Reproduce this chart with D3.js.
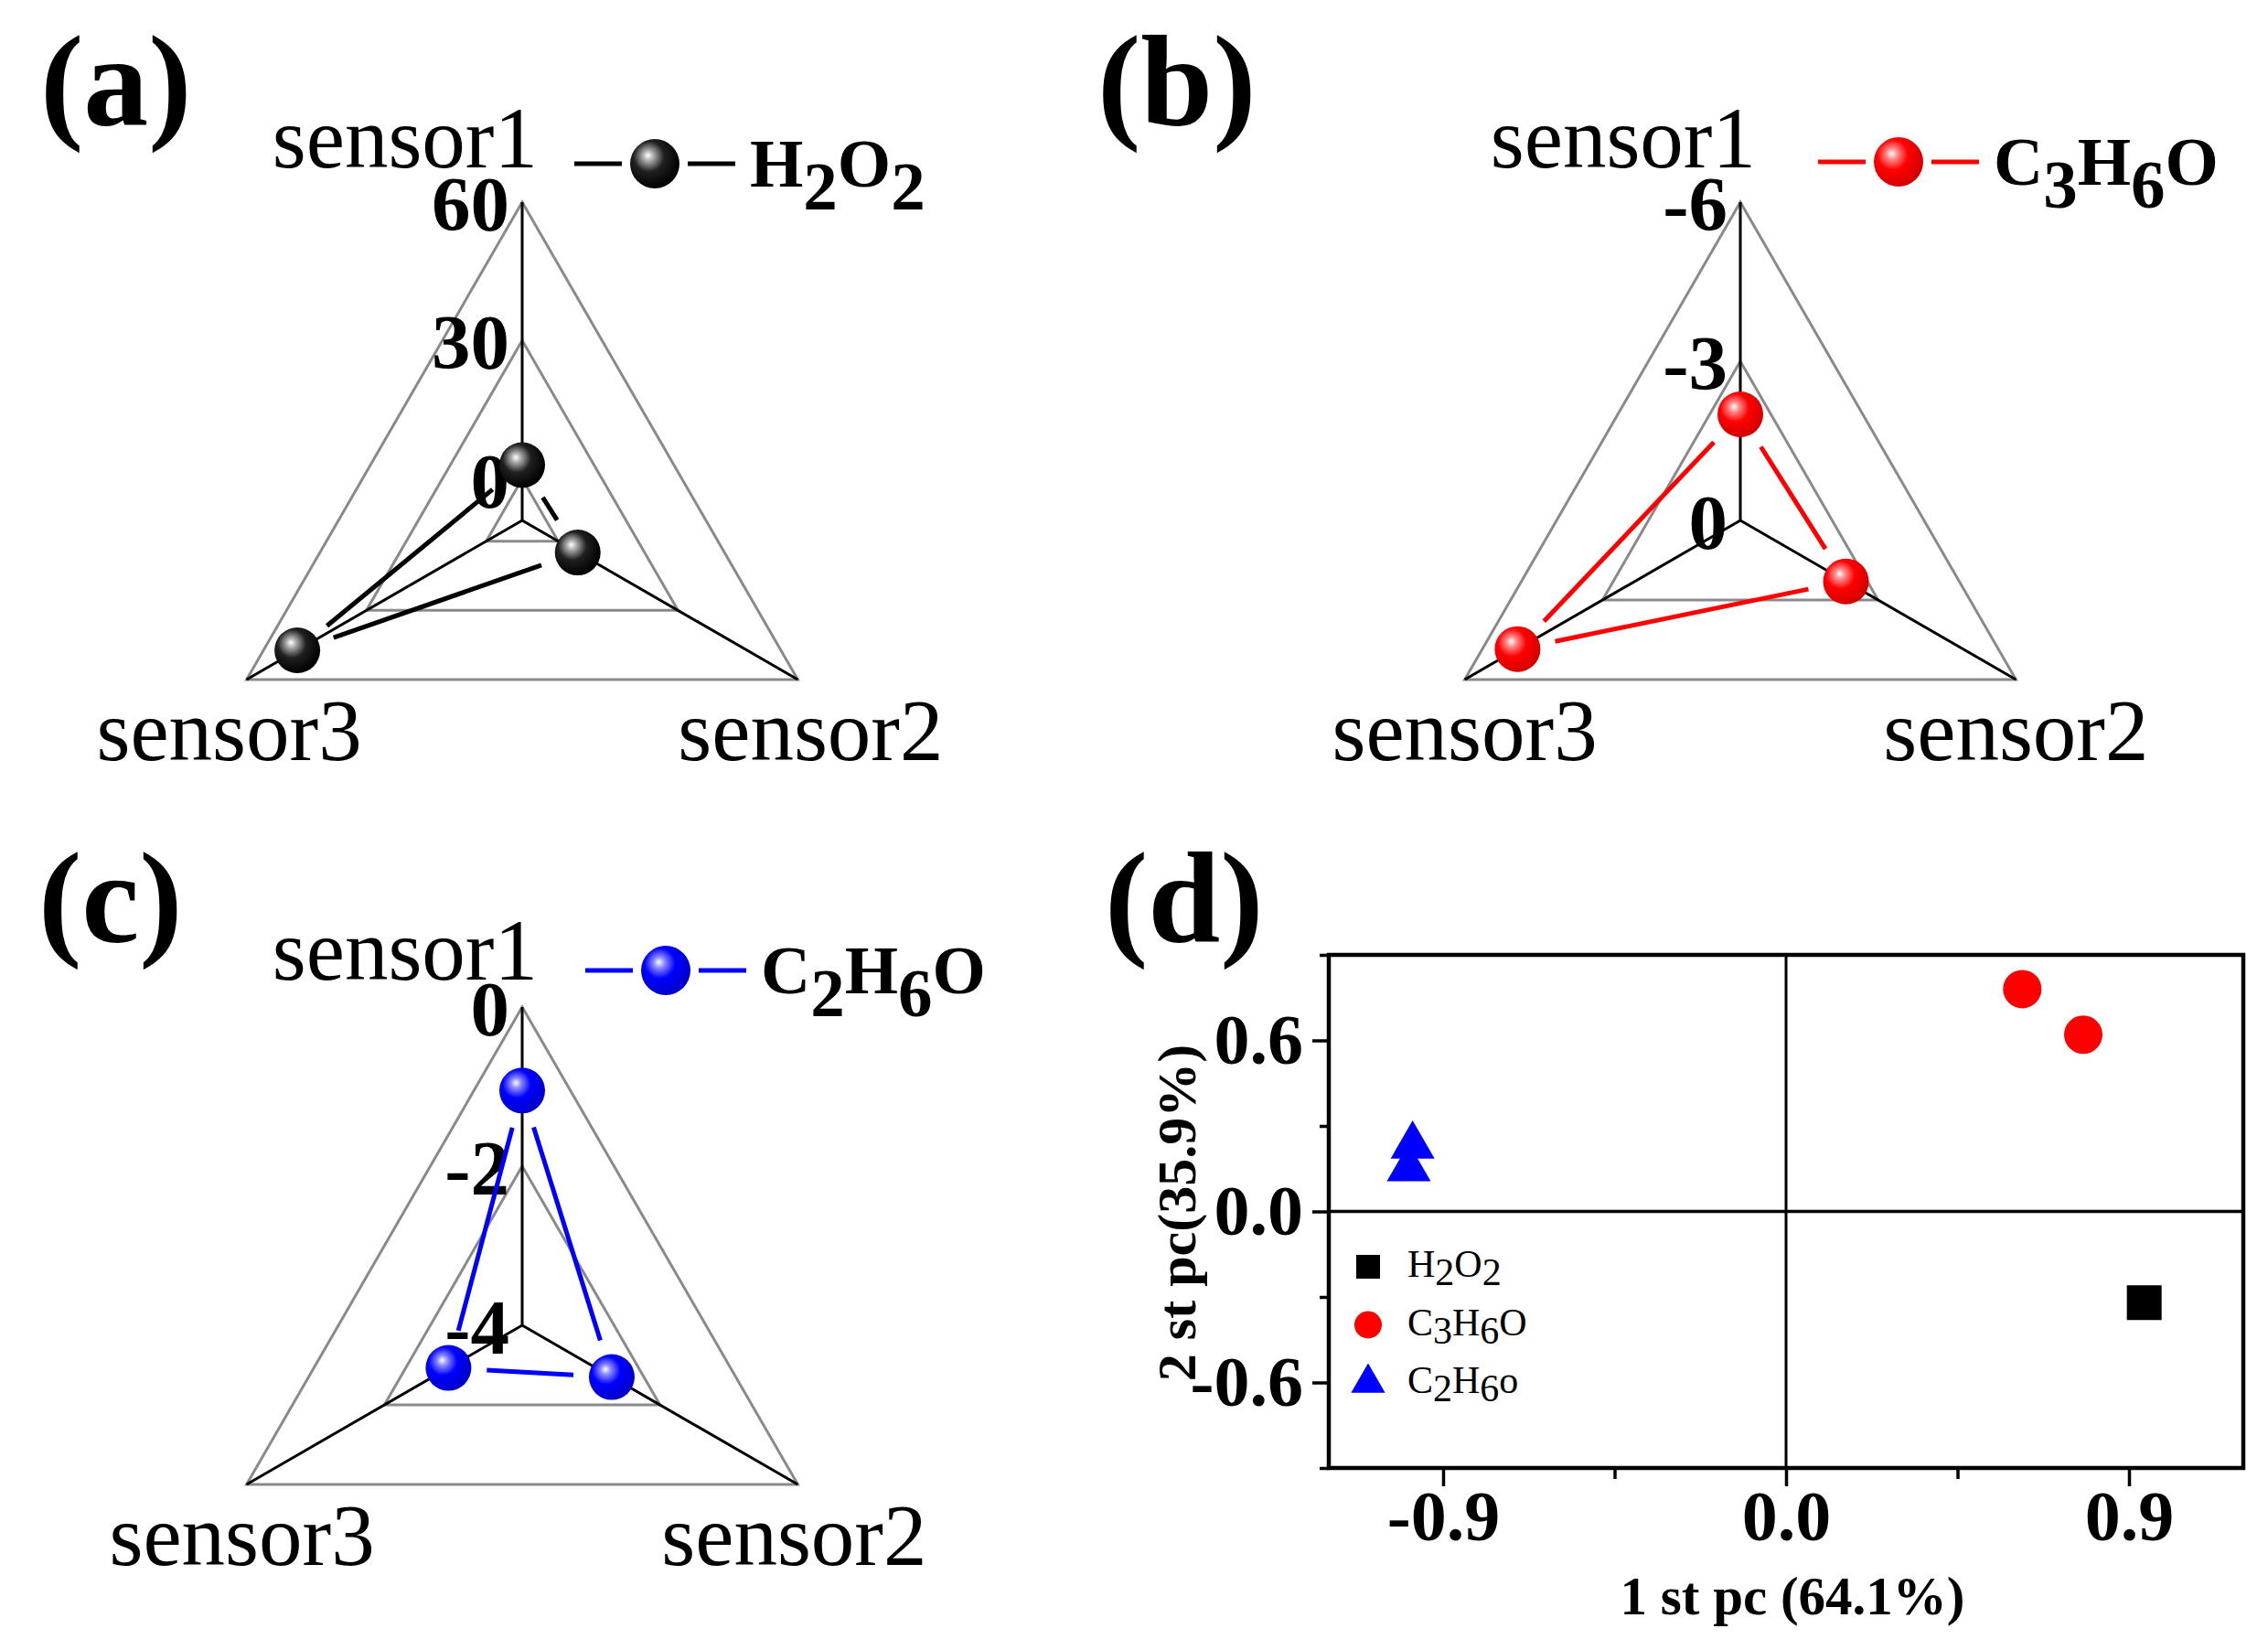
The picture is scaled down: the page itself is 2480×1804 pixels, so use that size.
<!DOCTYPE html>
<html>
<head>
<meta charset="utf-8">
<script src="https://cdn.jsdelivr.net/npm/d3@7"></script>
<style>
  html, body { margin: 0; padding: 0; background: #ffffff; }
  svg { display: block; }
  text { font-family: "Liberation Serif", "Times New Roman", serif; }
</style>
</head>
<body>
<svg id="chart" width="2480" height="1804"></svg>
<script>
// ---------------- DATA ----------------
const sensors = ["sensor1", "sensor2", "sensor3"];

// radar (a) H2O2
const h2o2Values = [3.0, 4.9, 47.3];
const h2o2Ticks = [0, 30, 60];
const h2o2Domain = [-9, 60];

// radar (b) C3H6O
const c3h6oValues = [-2.0, -2.3, -4.85];
const c3h6oTicks = [0, -3, -6];
const c3h6oDomain = [0, -6];

// radar (c) C2H6O
const c2h6oValues = [-1.05, -2.7, -2.93];
const c2h6oTicks = [-4, -2, 0];
const c2h6oDomain = [-4, 0];

// PCA (d)
const pcaH2O2 = [[0.94, -0.32]];
const pcaC3H6O = [[0.62, 0.78], [0.78, 0.62]];
const pcaC2H6O = [[-0.98, 0.23], [-0.99, 0.15]];
const pcXDomain = [-1.2, 1.2];
const pcYDomain = [-0.9, 0.9];
const pcXTicks = [-0.9, 0.0, 0.9];
const pcXMinor = [-0.45, 0.45];
const pcYTicks = [-0.6, 0.0, 0.6];
const pcYMinor = [-0.9, -0.3, 0.3, 0.9];
const pcXTitle = "1 st pc (64.1%)";
const pcYTitle = "2 st pc(35.9%)";

// ---------------- DRAWING ----------------
const svg = d3.select("#chart");
const defs = svg.append("defs");
const loc = d3.formatLocale({ decimal: ".", thousands: ",", grouping: [3], currency: ["", ""], minus: "-" });
const fmtInt = loc.format("d");
const fmt1 = loc.format(".1f");

function sphereGrad(id, stops) {
  const g = defs.append("radialGradient").attr("id", id)
    .attr("cx", "40%").attr("cy", "38%").attr("r", "62%")
    .attr("fx", "36%").attr("fy", "33%");
  stops.forEach(s => g.append("stop").attr("offset", s[0]).attr("stop-color", s[1]));
}
sphereGrad("gBlack", [["0%", "#ffffff"], ["18%", "#a8a8a8"], ["50%", "#202020"], ["100%", "#000000"]]);
sphereGrad("gRed", [["0%", "#ffffff"], ["18%", "#ff8a8a"], ["50%", "#ff0000"], ["100%", "#d40000"]]);
sphereGrad("gBlue", [["0%", "#ffffff"], ["18%", "#8a8aff"], ["50%", "#0000ff"], ["100%", "#0000c8"]]);

const angles = [-90, 30, 150].map(a => a * Math.PI / 180);

function shorten(p, q, g) {
  const dx = q[0] - p[0], dy = q[1] - p[1];
  const L = Math.hypot(dx, dy);
  if (L <= 2 * g) return null;
  return [[p[0] + dx * g / L, p[1] + dy * g / L], [q[0] - dx * g / L, q[1] - dy * g / L]];
}

function formulaText(sel, parts, shift) {
  parts.forEach(p => {
    const t = sel.append("tspan").text(p.t);
    if (p.sub) t.attr("dy", shift);
    else if (p.after) t.attr("dy", -shift);
  });
}

function radar(cfg) {
  const g = svg.append("g");
  const { cx, cy, R } = cfg;
  const r = d3.scaleLinear().domain(cfg.domain).range([0, R]);
  const pt = (i, v) => [cx + r(v) * Math.cos(angles[i]), cy + r(v) * Math.sin(angles[i])];

  // grid triangles
  cfg.ticks.forEach(t => {
    if (r(t) < 1) return;
    const pts = [0, 1, 2].map(i => pt(i, t));
    g.append("polygon")
      .attr("points", pts.map(p => p.join(",")).join(" "))
      .attr("fill", "none").attr("stroke", "#8a8a8a").attr("stroke-width", 3);
  });
  // axes
  [0, 1, 2].map(i => {
    g.append("line")
      .attr("x1", cx).attr("y1", cy)
      .attr("x2", cx + R * Math.cos(angles[i])).attr("y2", cy + R * Math.sin(angles[i]))
      .attr("stroke", "#000").attr("stroke-width", 3);
  });
  // tick labels on sensor1 axis
  cfg.ticks.forEach(t => {
    g.append("text")
      .attr("x", cx - 14).attr("y", cy - r(t) + 2)
      .attr("text-anchor", "end").attr("dominant-baseline", "central")
      .attr("font-weight", "bold").attr("font-size", 85)
      .text(fmtInt(t));
  });
  // sensor labels
  g.append("text").attr("x", cx + 17).attr("y", cy - R - cfg.s1off)
    .attr("text-anchor", "end").attr("font-size", 95).text(sensors[0]);
  const v2 = pt(1, cfg.domain[1]), v3 = pt(2, cfg.domain[1]);
  g.append("text").attr("x", v2[0] + cfg.l2dx).attr("y", v2[1] + 88)
    .attr("text-anchor", "middle").attr("font-size", 95).text(sensors[1]);
  g.append("text").attr("x", v3[0] + cfg.l3dx).attr("y", v3[1] + 88)
    .attr("text-anchor", "middle").attr("font-size", 95).text(sensors[2]);

  // data polygon with gaps near markers
  const P = cfg.values.map((v, i) => pt(i, v));
  [[0, 1], [1, 2], [2, 0]].forEach(([a, b]) => {
    const s = shorten(P[a], P[b], 42);
    if (!s) return;
    g.append("line")
      .attr("x1", s[0][0]).attr("y1", s[0][1]).attr("x2", s[1][0]).attr("y2", s[1][1])
      .attr("stroke", cfg.color).attr("stroke-width", 5);
  });
  P.forEach(p => {
    g.append("circle").attr("cx", p[0]).attr("cy", p[1]).attr("r", 25)
      .attr("fill", `url(#${cfg.grad})`);
  });

  // legend
  const L = cfg.legend;
  g.append("line").attr("x1", L.x).attr("x2", L.x + 52).attr("y1", L.y).attr("y2", L.y)
    .attr("stroke", cfg.color).attr("stroke-width", 5);
  g.append("line").attr("x1", L.x + 124).attr("x2", L.x + 176).attr("y1", L.y).attr("y2", L.y)
    .attr("stroke", cfg.color).attr("stroke-width", 5);
  g.append("circle").attr("cx", L.x + 88).attr("cy", L.y).attr("r", 27)
    .attr("fill", `url(#${cfg.grad})`);
  const lt = g.append("text").attr("x", L.x + 192).attr("y", L.y + 25)
    .attr("font-weight", "bold").attr("font-size", 75);
  formulaText(lt, cfg.label, 25);

  // panel label
  svg.append("text").attr("x", cfg.tag.x).attr("y", cfg.tag.y)
    .attr("font-weight", "bold").attr("font-size", 142).text(cfg.tag.t);
}

radar({
  cx: 571, cy: 569, R: 348, domain: h2o2Domain, ticks: h2o2Ticks, values: h2o2Values,
  color: "#000000", grad: "gBlack", s1off: 38, l2dx: 14, l3dx: -19,
  legend: { x: 628, y: 179 },
  label: [{ t: "H" }, { t: "2", sub: true }, { t: "O", after: true }, { t: "2", sub: true }],
  tag: { t: "(a)", x: 44, y: 137 }
});
radar({
  cx: 1903, cy: 569, R: 348, domain: c3h6oDomain, ticks: c3h6oTicks, values: c3h6oValues,
  color: "#ff0000", grad: "gRed", s1off: 38, l2dx: 0, l3dx: 0,
  legend: { x: 1988, y: 177 },
  label: [{ t: "C" }, { t: "3", sub: true }, { t: "H", after: true }, { t: "6", sub: true }, { t: "O", after: true }],
  tag: { t: "(b)", x: 1200, y: 137 }
});
radar({
  cx: 571, cy: 1449, R: 348, domain: c2h6oDomain, ticks: c2h6oTicks, values: c2h6oValues,
  color: "#0000ff", grad: "gBlue", s1off: 30, l2dx: -4, l3dx: -5,
  legend: { x: 640, y: 1061 },
  label: [{ t: "C" }, { t: "2", sub: true }, { t: "H", after: true }, { t: "6", sub: true }, { t: "O", after: true }],
  tag: { t: "(c)", x: 42, y: 1030 }
});

// ---------------- PCA panel (d) ----------------
const gd = svg.append("g");
const x = d3.scaleLinear().domain(pcXDomain).range([1453, 2453]);
const y = d3.scaleLinear().domain(pcYDomain).range([1605, 1044]);

// zero lines
gd.append("line").attr("x1", x(0)).attr("x2", x(0)).attr("y1", y(pcYDomain[0])).attr("y2", y(pcYDomain[1]))
  .attr("stroke", "#000").attr("stroke-width", 3);
gd.append("line").attr("x1", x(pcXDomain[0])).attr("x2", x(pcXDomain[1])).attr("y1", y(0)).attr("y2", y(0))
  .attr("stroke", "#000").attr("stroke-width", 3.5);

// axes
const xAxis = d3.axisBottom(x).tickValues(pcXTicks).tickSize(20).tickSizeOuter(0).tickPadding(8)
  .tickFormat(fmt1);
const gx = gd.append("g").attr("transform", `translate(0,${y(pcYDomain[0])})`).call(xAxis);
gx.select(".domain").remove();
gx.selectAll(".tick line").attr("stroke", "#000").attr("stroke-width", 3.5);
gx.selectAll(".tick text").attr("font-family", "Liberation Serif").attr("font-weight", "bold")
  .attr("font-size", 78).attr("fill", "#000").attr("dy", "0.66em");
const gxm = gd.append("g").attr("transform", `translate(0,${y(pcYDomain[0])})`)
  .call(d3.axisBottom(x).tickValues(pcXMinor).tickSize(12).tickFormat(""));
gxm.select(".domain").remove();
gxm.selectAll(".tick line").attr("stroke", "#000").attr("stroke-width", 3.5);

const yAxis = d3.axisLeft(y).tickValues(pcYTicks).tickSize(18).tickSizeOuter(0).tickPadding(10)
  .tickFormat(fmt1);
const gy = gd.append("g").attr("transform", `translate(${x(pcXDomain[0])},0)`).call(yAxis);
gy.select(".domain").remove();
gy.selectAll(".tick line").attr("stroke", "#000").attr("stroke-width", 3.5);
gy.selectAll(".tick text").attr("font-family", "Liberation Serif").attr("font-weight", "bold")
  .attr("font-size", 78).attr("fill", "#000");
const gym = gd.append("g").attr("transform", `translate(${x(pcXDomain[0])},0)`)
  .call(d3.axisLeft(y).tickValues(pcYMinor).tickSize(10).tickFormat(""));
gym.select(".domain").remove();
gym.selectAll(".tick line").attr("stroke", "#000").attr("stroke-width", 3.5);

// frame
gd.append("rect").attr("x", x(pcXDomain[0])).attr("y", y(pcYDomain[1]))
  .attr("width", x(pcXDomain[1]) - x(pcXDomain[0])).attr("height", y(pcYDomain[0]) - y(pcYDomain[1]))
  .attr("fill", "none").attr("stroke", "#000").attr("stroke-width", 4.5);

// points
const sym = (type, size) => d3.symbol().type(type).size(size)();
pcaC2H6O.forEach(d => gd.append("path").attr("d", sym(d3.symbolTriangle, 1000))
  .attr("transform", `translate(${x(d[0])},${y(d[1])})`).attr("fill", "#0000ff"));
pcaC3H6O.forEach(d => gd.append("path").attr("d", sym(d3.symbolCircle, Math.PI * 21 * 21))
  .attr("transform", `translate(${x(d[0])},${y(d[1])})`).attr("fill", "#ff0000"));
pcaH2O2.forEach(d => gd.append("path").attr("d", sym(d3.symbolSquare, 38 * 38))
  .attr("transform", `translate(${x(d[0])},${y(d[1])})`).attr("fill", "#000000"));

// legend
const legendItems = [
  { type: d3.symbolSquare, size: 26 * 26, color: "#000000",
    parts: [{ t: "H" }, { t: "2", sub: true }, { t: "O", after: true }, { t: "2", sub: true }] },
  { type: d3.symbolCircle, size: Math.PI * 15 * 15, color: "#ff0000",
    parts: [{ t: "C" }, { t: "3", sub: true }, { t: "H", after: true }, { t: "6", sub: true }, { t: "O", after: true }] },
  { type: d3.symbolTriangle, size: 600, color: "#0000ff",
    parts: [{ t: "C" }, { t: "2", sub: true }, { t: "H", after: true }, { t: "6", sub: true }, { t: "o", after: true }] }
];
legendItems.forEach((it, i) => {
  const ly = 1385 + i * 63.5;
  gd.append("path").attr("d", sym(it.type, it.size))
    .attr("transform", `translate(1496,${ly})`).attr("fill", it.color);
  const t = gd.append("text").attr("x", 1539).attr("y", ly + 11).attr("font-size", 42);
  formulaText(t, it.parts, 9);
});

// axis titles
gd.append("text").attr("x", 1960).attr("y", 1765).attr("text-anchor", "middle")
  .attr("font-weight", "bold").attr("font-size", 59).text(pcXTitle);
gd.append("text").attr("transform", `translate(1307,1326) rotate(-90)`).attr("text-anchor", "middle")
  .attr("font-weight", "bold").attr("font-size", 60).text(pcYTitle);

svg.append("text").attr("x", 1208).attr("y", 1030)
  .attr("font-weight", "bold").attr("font-size", 142).text("(d)");
</script>
</body>
</html>
